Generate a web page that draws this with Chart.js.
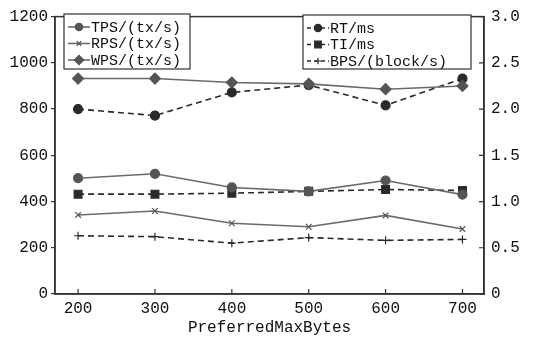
<!DOCTYPE html>
<html><head><meta charset="utf-8">
<script src="https://cdn.jsdelivr.net/npm/chart.js@4/dist/chart.umd.min.js"></script>
<style>html,body{margin:0;padding:0;background:#fff}#wrap{width:534px;height:343px}</style>
</head><body><div id="wrap"><canvas id="c" width="534" height="343"></canvas></div>
<script>
const categories=[200,300,400,500,600,700];
const tpsValues=[501,520,461,444,491,430];
const rpsValues=[342,359,306,291,340,281];
const wpsValues=[932,932,915,909,886,900];
const rtValues=[2.00,1.93,2.18,2.26,2.04,2.33];
const tiValues=[1.08,1.08,1.09,1.11,1.13,1.12];
const bpsValues=[0.63,0.62,0.55,0.61,0.58,0.59];
const leftTicks=[0,200,400,600,800,1000,1200];
const rightTicks=[0,0.5,1.0,1.5,2.0,2.5,3.0];
const labelsLeft=['TPS/(tx/s)','RPS/(tx/s)','WPS/(tx/s)'];
const labelsRight=['RT/ms','TI/ms','BPS/(block/s)'];

const FONT='"Liberation Mono", "DejaVu Sans Mono", monospace';
const solidC='#6a6a6a', markC='#555', dashC='#2a2a2a';
function pts(arr){return arr.map((v,i)=>({x:categories[i],y:v}));}
function solid(label,data,style,r){return {label,data:pts(data),yAxisID:'y',borderColor:solidC,borderWidth:1.6,
  pointStyle:style,pointRadius:r,pointBackgroundColor:markC,pointBorderColor:markC,pointBorderWidth:1.2};}
function dashed(label,data,style,r){return {label,data:pts(data),yAxisID:'y1',borderColor:dashC,borderWidth:1.6,borderDash:[6,4],
  pointStyle:style,pointRadius:r,pointBackgroundColor:dashC,pointBorderColor:dashC,pointBorderWidth:1.2};}

const datasets=[
  solid(labelsLeft[0],tpsValues,'circle',4.5),
  solid(labelsLeft[1],rpsValues,'crossRot',4),
  solid(labelsLeft[2],wpsValues,'rectRot',5.5),
  dashed(labelsRight[0],rtValues,'circle',4.5),
  dashed(labelsRight[1],tiValues,'rect',5.5),
  dashed(labelsRight[2],bpsValues,'cross',4)
];

const extras={id:'extras',afterDraw(chart){
  const ctx=chart.ctx,a=chart.chartArea,x=chart.scales.x,y1=chart.scales.y1;
  ctx.save();
  ctx.strokeStyle='#333';ctx.lineWidth=1.5;
  ctx.strokeRect(a.left,a.top,a.right-a.left,a.bottom-a.top);
  ctx.lineWidth=1.2;
  ctx.beginPath();
  categories.forEach(v=>{const px=x.getPixelForValue(v);ctx.moveTo(px,a.bottom);ctx.lineTo(px,a.bottom-5);});
  rightTicks.forEach(v=>{const py=y1.getPixelForValue(v);ctx.moveTo(a.right,py);ctx.lineTo(a.right-5,py);});
  ctx.stroke();
  const boxes=[{x0:64,y0:14,w:126,h:55,idx:[0,1,2]},{x0:303,y0:15,w:168,h:54,idx:[3,4,5]}];
  boxes.forEach(b=>{
    ctx.fillStyle='#fff';ctx.fillRect(b.x0,b.y0,b.w,b.h);
    ctx.strokeStyle='#333';ctx.lineWidth=1.2;ctx.setLineDash([]);ctx.strokeRect(b.x0,b.y0,b.w,b.h);
    b.idx.forEach((di,k)=>{
      const ds=chart.data.datasets[di];
      const yy=b.y0+13+k*16.5, sx=b.x0+4;
      ctx.strokeStyle=ds.borderColor;ctx.lineWidth=1.6;ctx.setLineDash(ds.borderDash?[4,3]:[]);
      ctx.beginPath();ctx.moveTo(sx,yy);ctx.lineTo(sx+22,yy);ctx.stroke();ctx.setLineDash([]);
      ctx.fillStyle=ds.pointBackgroundColor;ctx.strokeStyle=ds.pointBorderColor;ctx.lineWidth=1.2;
      Chart.helpers.drawPoint(ctx,{pointStyle:ds.pointStyle,radius:ds.pointRadius-0.8,rotation:0,borderWidth:1.2},sx+11,yy);
      ctx.fillStyle='#111';ctx.font='15px '+FONT;ctx.textBaseline='middle';ctx.textAlign='left';
      ctx.fillText(ds.label,sx+23,yy+1);
    });
  });
  ctx.restore();
}};

new Chart(document.getElementById('c'),{
  type:'line',
  data:{datasets},
  plugins:[extras],
  options:{
    responsive:false,devicePixelRatio:1,animation:false,
    layout:{padding:{top:13,left:0,right:0,bottom:6}},
    plugins:{legend:{display:false},tooltip:{enabled:false}},
    scales:{
      x:{type:'linear',min:170,max:728,
        afterBuildTicks:s=>{s.ticks=categories.map(v=>({value:v}));},
        afterFit:s=>{s.height=43;},
        grid:{drawOnChartArea:false,drawTicks:false},
        border:{display:true,color:'#333',width:1.5},
        ticks:{padding:5,color:'#111',font:{family:FONT,size:16},callback:v=>String(v)},
        title:{display:true,text:'PreferredMaxBytes',color:'#111',font:{family:FONT,size:16},padding:{top:0,bottom:0}}},
      y:{position:'left',min:0,max:1200,
        afterBuildTicks:s=>{s.ticks=leftTicks.map(v=>({value:v}));},
        afterFit:s=>{s.width=55;},
        grid:{drawOnChartArea:false,drawTicks:true,tickLength:4,color:'#333',lineWidth:1.2},
        border:{display:true,color:'#333',width:1.5},
        ticks:{padding:3,color:'#111',font:{family:FONT,size:16},callback:v=>String(v)}},
      y1:{position:'right',min:0,max:3,
        afterBuildTicks:s=>{s.ticks=rightTicks.map(v=>({value:v}));},
        afterFit:s=>{s.width=50;},
        grid:{drawOnChartArea:false,drawTicks:false},
        border:{display:true,color:'#333',width:1.5},
        ticks:{padding:7,color:'#111',font:{family:FONT,size:16},callback:v=>v===0?'0':Number(v).toFixed(1)}}
    }
  }
});
</script></body></html>
